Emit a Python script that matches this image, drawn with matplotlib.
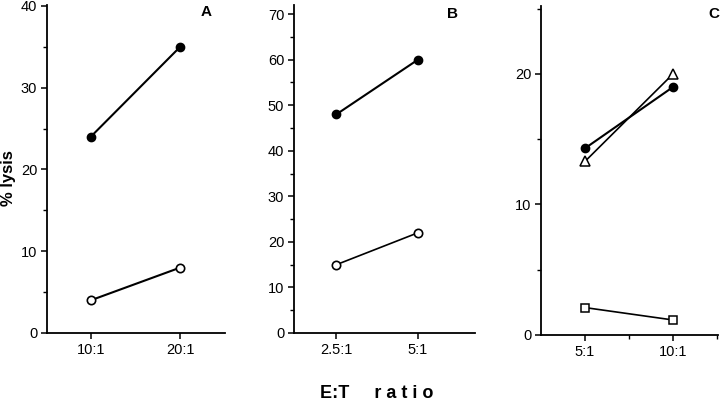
import matplotlib
matplotlib.use("Agg")
import matplotlib.pyplot as plt
from matplotlib.ticker import MultipleLocator, FixedLocator

plt.rcParams['font.family'] = ['Liberation Sans', 'DejaVu Sans']

# Panel A
a_labels = ["10:1", "20:1"]
a_filled = [24, 35]
a_open = [4, 8]
# Panel B
b_labels = ["2.5:1", "5:1"]
b_filled = [48, 60]
b_open = [15, 22]
# Panel C
c_labels = ["5:1", "10:1"]
c_filled = [14.3, 19.0]
c_triangle = [13.3, 20.0]
c_square = [2.1, 1.15]

W, H = 720, 404
fig = plt.figure(figsize=(7.2, 4.04), dpi=100)

def make_ax(left, right, top, bottom):
    return fig.add_axes([left / W, 1 - bottom / H, (right - left) / W, (bottom - top) / H])

axA = make_ax(47, 225, 5, 333)
axB = make_ax(294, 475, 5, 333)
axC = make_ax(541, 718, 6, 335)

lw = 1.5
ms = 6

def style(ax, labels, ymax, ymajor, xlim, xminor=None):
    for s in ["top", "right"]:
        ax.spines[s].set_visible(False)
    for s in ["left", "bottom"]:
        ax.spines[s].set_linewidth(1.3)
    ax.set_xticks(range(len(labels)))
    ax.set_xticklabels(labels)
    ax.set_xlim(*xlim)
    ax.set_ylim(0, ymax)
    ax.yaxis.set_major_locator(MultipleLocator(ymajor))
    ax.yaxis.set_minor_locator(MultipleLocator(ymajor / 2))
    if xminor is not None:
        ax.xaxis.set_minor_locator(FixedLocator(xminor))
    ax.tick_params(which="major", direction="out", length=4, width=1.1, labelsize=10.5, pad=3)
    ax.tick_params(which="minor", direction="out", length=3, width=1.0)
    ax.tick_params(axis="x", which="minor", length=3)

x = [0, 1]

axA.plot(x, a_filled, "-o", color="black", lw=lw, ms=ms, mfc="black", mec="black", clip_on=False)
axA.plot(x, a_open, "-o", color="black", lw=lw, ms=ms, mfc="white", mec="black", mew=1.2, clip_on=False)
style(axA, a_labels, 40.1, 10, (-0.49, 1.5))

axB.plot(x, b_filled, "-o", color="black", lw=lw, ms=ms, mfc="black", mec="black", clip_on=False)
axB.plot(x, b_open, "-o", color="black", lw=1.2, ms=ms, mfc="white", mec="black", mew=1.2, clip_on=False)
style(axB, b_labels, 72, 10, (-0.52, 1.7))

axC.plot(x, c_filled, "-o", color="black", lw=lw, ms=ms, mfc="black", mec="black", clip_on=False)
axC.plot(x, c_triangle, "-^", color="black", lw=1.2, ms=7, mfc="white", mec="black", mew=1.1, clip_on=False)
axC.plot(x, c_square, "-s", color="black", lw=1.2, ms=6, mfc="white", mec="black", mew=1.1, clip_on=False)
style(axC, c_labels, 25.2, 10, (-0.5, 1.51), xminor=[0.5, 1.5])

def fig_text(px, py, s, **kw):
    fig.text(px / W, 1 - py / H, s, **kw)

fig_text(206, 12, "A", fontsize=11, fontweight="bold", ha="center", va="center")
fig_text(452, 14, "B", fontsize=11, fontweight="bold", ha="center", va="center")
fig_text(714, 14, "C", fontsize=11, fontweight="bold", ha="center", va="center")
fig_text(9, 178, "% lysis", fontsize=12, fontweight="bold", ha="center", va="center", rotation=90)
fig_text(377, 393, "E:T     r a t i o", fontsize=13, fontweight="bold", ha="center", va="center")

fig.savefig("out.png", dpi=100)
